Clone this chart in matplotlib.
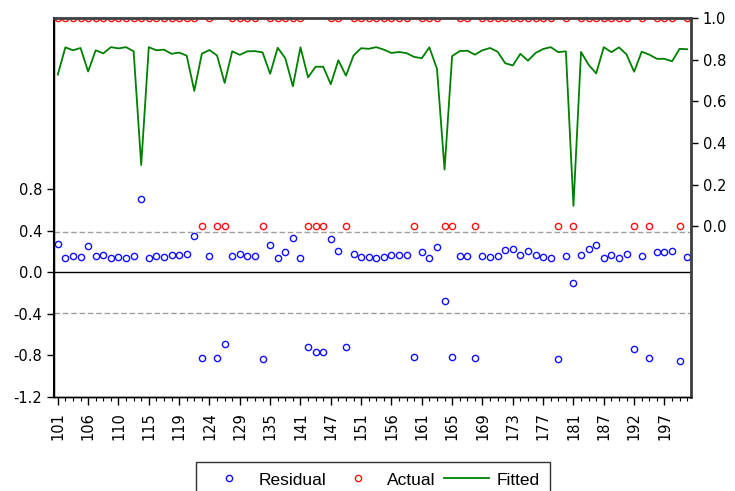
import numpy as np
import matplotlib
matplotlib.use("Agg")
import matplotlib.pyplot as plt
from matplotlib.ticker import FixedLocator, MultipleLocator

plt.rcParams["font.family"] = ["Liberation Sans", "DejaVu Sans"]

# Observation labels shown on the x axis (every 4th observation)
tick_labels = ["101", "106", "110", "115", "119", "124", "129", "135", "141", "147",
               "151", "156", "161", "165", "169", "173", "177", "181", "187", "192", "197"]

# Actual (0/1) outcome per observation
actual = [1, 1, 1, 1, 1, 1, 1, 1, 1, 1, 1, 1, 1, 1, 1, 1, 1, 1, 1, 0,
          1, 0, 0, 1, 1, 1, 1, 0, 1, 1, 1, 1, 1, 0, 0, 0, 1, 1, 0, 1,
          1, 1, 1, 1, 1, 1, 1, 0, 1, 1, 1, 0, 0, 1, 1, 0, 1, 1, 1, 1,
          1, 1, 1, 1, 1, 1, 0, 1, 0, 1, 1, 1, 1, 1, 1, 1, 0, 1, 0, 1,
          1, 1, 0, 1]

# Fitted probabilities per observation
fitted = [0.728, 0.859, 0.845, 0.856, 0.743, 0.845, 0.830, 0.860, 0.854, 0.860,
          0.840, 0.294, 0.860, 0.845, 0.848, 0.828, 0.834, 0.819, 0.650, 0.829,
          0.846, 0.820, 0.688, 0.840, 0.823, 0.840, 0.841, 0.835, 0.732, 0.857,
          0.807, 0.672, 0.859, 0.715, 0.766, 0.766, 0.682, 0.797, 0.723, 0.820,
          0.855, 0.852, 0.860, 0.848, 0.832, 0.837, 0.831, 0.813, 0.807, 0.859,
          0.756, 0.272, 0.817, 0.841, 0.843, 0.824, 0.845, 0.856, 0.838, 0.783,
          0.772, 0.828, 0.795, 0.832, 0.851, 0.860, 0.836, 0.840, 0.098, 0.837,
          0.775, 0.734, 0.860, 0.836, 0.859, 0.825, 0.742, 0.838, 0.824, 0.804,
          0.804, 0.792, 0.852, 0.850]

std_err = 0.393

actual_arr = np.array(actual, dtype=float)
fitted_arr = np.array(fitted, dtype=float)
residual = actual_arr - fitted_arr
x = np.arange(len(actual))

fig = plt.figure(figsize=(7.35, 4.91), dpi=100)
ax = fig.add_axes([54 / 735, 94 / 491, 637 / 735, 379 / 491])
ax2 = ax.twinx()

# Residual panel (left scale)
ax.axhline(0.0, color="black", lw=1.0, zorder=1)
ax.axhline(std_err, color="#a0a0a0", lw=1.0, ls=(0, (4, 2)), zorder=1)
ax.axhline(-std_err, color="#a0a0a0", lw=1.0, ls=(0, (4, 2)), zorder=1)
res_line, = ax.plot(x, residual, ls="none", marker="o", ms=4.5, mfc="none",
                    mec="#1010ff", mew=1.0, label="Residual", zorder=3)
ax.set_ylim(-1.2, 2.45)
ax.set_xlim(-0.5, 83.5)
ax.yaxis.set_major_locator(FixedLocator([-1.2, -0.8, -0.4, 0.0, 0.4, 0.8]))
ax.set_yticklabels(["-1.2", "-0.8", "-0.4", "0.0", "0.4", "0.8"])

# Actual / fitted panel (right scale)
act_line, = ax2.plot(x, actual_arr, ls="none", marker="o", ms=4.5, mfc="none",
                     mec="#ff1010", mew=1.0, label="Actual", zorder=2)
fit_line, = ax2.plot(x, fitted_arr, color="#008000", lw=1.3, label="Fitted", zorder=3)
ax2.set_ylim(-0.82, 1.0)
ax2.yaxis.set_major_locator(FixedLocator([0.0, 0.2, 0.4, 0.6, 0.8, 1.0]))
ax2.set_yticklabels(["0.0", "0.2", "0.4", "0.6", "0.8", "1.0"])

# X axis: labelled ticks every 4 observations, minor tick on each one
ax.xaxis.set_major_locator(FixedLocator(np.arange(0, len(actual), 4)[:len(tick_labels)]))
ax.set_xticklabels(tick_labels, rotation=90)
ax.xaxis.set_minor_locator(MultipleLocator(1))
ax.tick_params(axis="x", which="major", length=6, width=1, labelsize=10.5, pad=5)
ax.tick_params(axis="x", which="minor", length=3, width=0.8)
ax.tick_params(axis="y", length=5, width=1, labelsize=10.5)
ax2.tick_params(axis="y", length=5, width=1, labelsize=10.5)
for lbl in ax.get_xticklabels() + ax.get_yticklabels() + ax2.get_yticklabels():
    lbl.set_family("DejaVu Sans")

for a in (ax, ax2):
    for s in a.spines.values():
        s.set_color("black")
        s.set_linewidth(1.0)
ax2.spines["right"].set_color("#404040")
ax2.spines["right"].set_linewidth(2.0)
ax2.spines["top"].set_color("#404040")
ax2.spines["top"].set_linewidth(2.0)
ax.spines["top"].set_visible(False)
ax.spines["left"].set_linewidth(1.5)

leg = fig.legend([res_line, act_line, fit_line], ["Residual", "Actual", "Fitted"],
                 loc="upper center", bbox_to_anchor=(373 / 735, 29 / 491), ncol=3,
                 frameon=True, fancybox=False, fontsize=12.5, handlelength=2.6,
                 columnspacing=0.5, borderpad=0.6, handletextpad=0.4,
                 borderaxespad=0.0)
leg.get_frame().set_edgecolor("black")
leg.get_frame().set_linewidth(1.0)

fig.savefig("out.png", dpi=100)
